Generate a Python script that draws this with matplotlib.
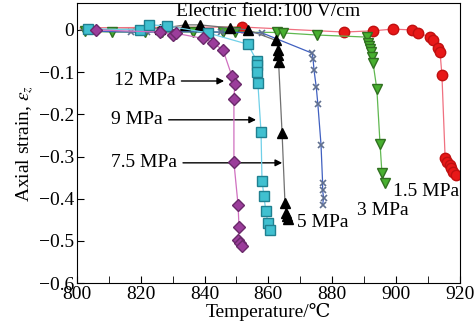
import numpy as np
import matplotlib.pyplot as plt

plt.rcParams['font.family'] = ['Liberation Serif', 'DejaVu Serif']
plt.rcParams['mathtext.fontset'] = 'stix'

# 12 MPa (diamonds)
t12 = [806, 826, 830, 831, 839.5, 842.6, 845.8, 848.6, 849.5, 849.2, 849.2, 850.5, 850.8, 850.5, 851, 851.7]
e12 = [0.0, -0.005, -0.012, -0.008, -0.02, -0.03, -0.048, -0.11, -0.127, -0.163, -0.314, -0.415, -0.468, -0.499, -0.505, -0.513]
# 9 MPa (squares)
t9 = [803.5, 819.7, 822.6, 828.2, 841, 853.6, 856.4, 856.5, 856.4, 856.7, 857.7, 858, 858.6, 859.2, 859.9, 860.5]
e9 = [0.003, 0.0, 0.012, 0.01, -0.007, -0.034, -0.074, -0.083, -0.1, -0.125, -0.242, -0.357, -0.393, -0.43, -0.458, -0.475]
# 7.5 MPa (black triangles)
t75 = [801, 826, 833.9, 838.5, 848, 853.6, 862.5, 863, 863, 863.2, 864.3, 865.2, 865.5, 865.8, 866]
e75 = [0.0, 0.003, 0.012, 0.012, 0.005, 0.0, -0.025, -0.048, -0.06, -0.076, -0.245, -0.41, -0.433, -0.442, -0.448]
# 5 MPa (crosses)
t5 = [805, 817, 822, 830, 845, 858, 873.7, 874, 874.3, 875, 875.5, 876.5, 877, 877, 877.3, 877]
e5 = [-0.003, -0.005, -0.005, -0.004, -0.005, -0.007, -0.055, -0.068, -0.095, -0.135, -0.175, -0.272, -0.363, -0.38, -0.398, -0.415]
# 3 MPa (down triangles)
t3 = [802.5, 811, 821.3, 826.6, 836.4, 845.8, 849.5, 862.7, 864.6, 875.2, 891, 891.3, 891.6, 891.9, 892.2, 892.5, 892.8, 894, 895, 895.6, 896.5]
e3 = [-0.003, -0.005, -0.005, -0.005, -0.005, -0.005, -0.005, -0.006, -0.007, -0.012, -0.017, -0.03, -0.038, -0.045, -0.053, -0.065, -0.078, -0.14, -0.27, -0.34, -0.363]
# 1.5 MPa (circles)
t15 = [801, 851.7, 883.7, 892.8, 899, 905, 906.9, 910.7, 911.6, 913.2, 913.8, 914.4, 915.4, 916, 916.8, 917.2, 917.8, 918.8]
e15 = [0.005, 0.007, -0.005, -0.002, 0.002, 0.0, -0.007, -0.017, -0.024, -0.043, -0.052, -0.107, -0.303, -0.313, -0.32, -0.328, -0.336, -0.343]

fig = plt.figure(figsize=(4.75, 3.28), dpi=100)
ax = fig.add_axes([0.162, 0.137, 0.806, 0.854])

ax.plot(t15, e15, '-', color='#f07080', lw=0.9, marker='o', ms=7.5, mfc='#e81818', mec='#c01010',
        markevery=list(range(1, len(t15))), zorder=2)
ax.plot(t3, e3, '-', color='#60b850', lw=0.9, marker='v', ms=7.5, mfc='#48b030', mec='#307020', zorder=3)
ax.plot(t5, e5, '-', color='#4060c0', lw=0.9, marker='x', ms=5, mec='#607090', mew=1.2, zorder=4)
ax.plot(t75, e75, '-', color='#707070', lw=0.9, marker='^', ms=7.5, mfc='black', mec='black',
        markevery=list(range(1, len(t75))), zorder=5)
ax.plot(t9, e9, '-', color='#70d0e8', lw=0.9, marker='s', ms=7, mfc='#40c0d0', mec='#208090', zorder=6)
ax.plot(t12, e12, '-', color='#d070c0', lw=0.9, marker='D', ms=6, mfc='#9b3d9b', mec='#6a2a6a', zorder=7)

ax.set_xlim(800, 920)
ax.set_ylim(-0.6, 0.064)
ax.set_xticks(np.arange(800, 921, 20))
ax.set_xticks(np.arange(810, 920, 20), minor=True)
ax.set_yticks(np.arange(-0.6, 0.01, 0.1))
ax.set_yticklabels(['\u22120.6', '\u22120.5', '\u22120.4', '\u22120.3', '\u22120.2', '\u22120.1', '0'])
ax.tick_params(direction='in', labelsize=14, length=5, top=False, right=False, pad=2)
ax.tick_params(which='minor', direction='in', length=5)

ax.set_xlabel('Temperature/\u2103', fontsize=14, labelpad=0)
ax.set_ylabel('Axial strain, $\\varepsilon_z$', fontsize=14, labelpad=2)

ax.text(860, 0.043, 'Electric field:100 V/cm', fontsize=14, ha='center', va='center')

arr = dict(arrowstyle='-|>', color='black', lw=1, mutation_scale=10)
ax.annotate('12 MPa', xy=(847, -0.121), xytext=(831, -0.121), fontsize=14, ha='right', va='center', arrowprops=arr)
ax.annotate('9 MPa', xy=(857, -0.213), xytext=(827, -0.213), fontsize=14, ha='right', va='center', arrowprops=arr)
ax.annotate('7.5 MPa', xy=(865.2, -0.315), xytext=(831.5, -0.315), fontsize=14, ha='right', va='center', arrowprops=arr)
ax.text(869, -0.457, '5 MPa', fontsize=14, ha='left', va='center')
ax.text(887.8, -0.429, '3 MPa', fontsize=14, ha='left', va='center')
ax.text(899, -0.384, '1.5 MPa', fontsize=14, ha='left', va='center')

plt.savefig('out.png', dpi=100)
